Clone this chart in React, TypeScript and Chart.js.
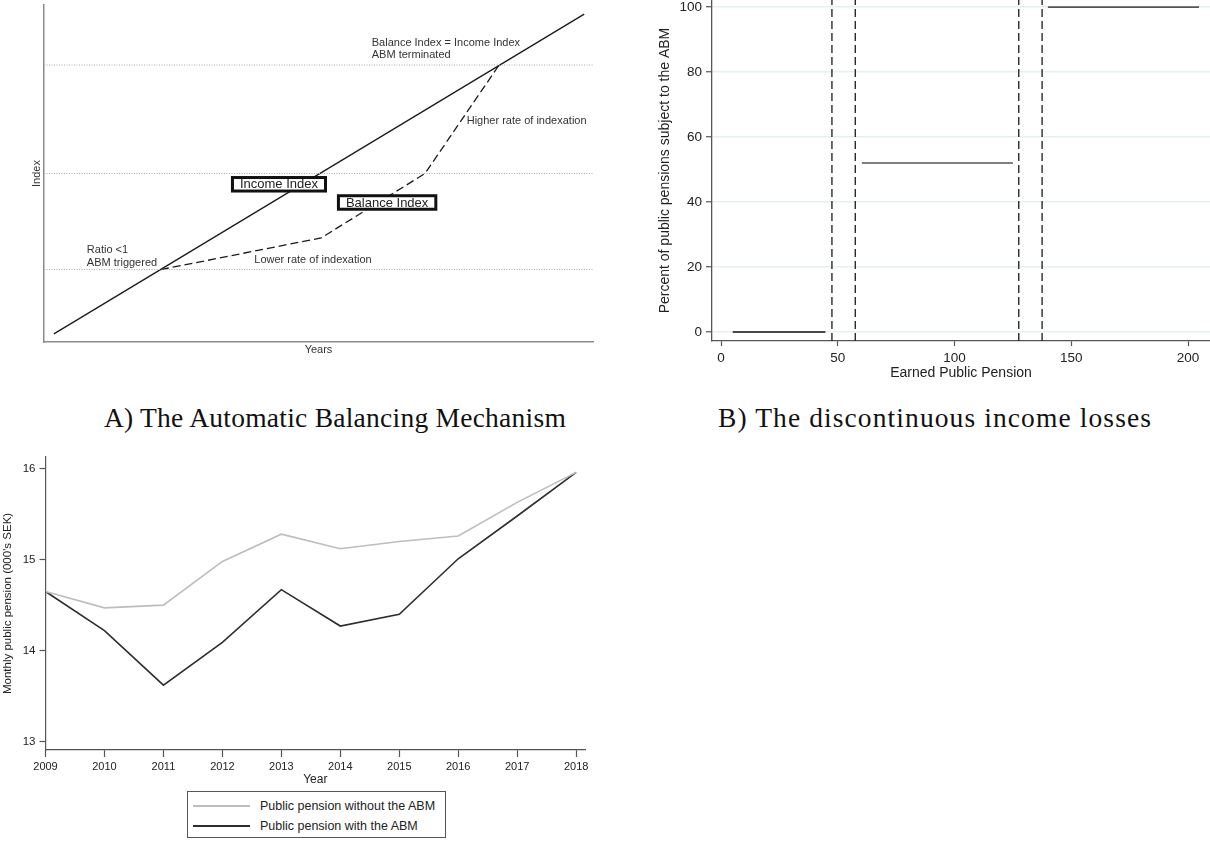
import { useEffect, useRef } from "react";
import { Chart, registerables } from "chart.js";

Chart.register(...registerables);

const SANS = "'Liberation Sans', Arial, Helvetica, sans-serif";
const SERIF = "'Liberation Serif', 'Times New Roman', Times, serif";

// Panel A: schematic of the automatic balancing mechanism (unitless)
const INCOME_X = [1.8, 98.4];
const INCOME_Y = [2.4, 97.3];
const BALANCE_X = [21.3, 50.5, 69.4, 82.9];
const BALANCE_Y = [21.5, 30.9, 50.0, 82.2];
const GUIDE_LEVELS = [21.5, 50.0, 82.2];
const A_NOTES = [
  { text: "Balance Index = Income Index", x: 59.7, y: 88.7 },
  { text: "ABM terminated", x: 59.7, y: 85.2 },
  { text: "Higher rate of indexation", x: 77.0, y: 65.7 },
  { text: "Ratio <1", x: 7.8, y: 27.3 },
  { text: "ABM triggered", x: 7.8, y: 23.5 },
  { text: "Lower rate of indexation", x: 38.3, y: 24.3 },
];
const A_BOXES = [
  { text: "Income Index", x: 42.8, y: 46.8 },
  { text: "Balance Index", x: 62.5, y: 41.4 },
];

// Panel B: share of pensions subject to the ABM by earned pension
const B_STEP_FROM = [5, 60.3, 140];
const B_STEP_TO = [44.7, 125, 204.7];
const B_STEP_SHARE = [0, 52, 100];
const B_CUTOFFS = [47.5, 57.5, 127.5, 137.5];
const B_X_TICKS = [0, 50, 100, 150, 200];
const B_Y_TICKS = [0, 20, 40, 60, 80, 100];

// Panel C: monthly public pension, 000's SEK
const YEARS = [2009, 2010, 2011, 2012, 2013, 2014, 2015, 2016, 2017, 2018];
const WITHOUT_ABM = [14.65, 14.47, 14.5, 14.98, 15.28, 15.12, 15.2, 15.26, 15.63, 15.96];
const WITH_ABM = [14.65, 14.22, 13.62, 14.09, 14.67, 14.27, 14.4, 15.01, 15.48, 15.96];
const C_Y_TICKS = [13, 14, 15, 16];
const SERIES_NAMES = ["Public pension without the ABM", "Public pension with the ABM"];
const SERIES_COLORS = ["#bdbdbd", "#2e2e2e"];

const notesPlugin = {
  id: "abmNotes",
  afterDatasetsDraw(chart: any) {
    const { ctx, scales } = chart;
    const x = scales.x;
    const y = scales.y;
    ctx.save();
    ctx.font = `11px ${SANS}`;
    ctx.fillStyle = "#333";
    ctx.textBaseline = "middle";
    ctx.textAlign = "left";
    A_NOTES.forEach((n) => {
      ctx.fillText(n.text, x.getPixelForValue(n.x), y.getPixelForValue(n.y));
    });
    ctx.font = `13px ${SANS}`;
    ctx.textAlign = "center";
    A_BOXES.forEach((b) => {
      const cx = x.getPixelForValue(b.x);
      const cy = y.getPixelForValue(b.y);
      const w = ctx.measureText(b.text).width + 15;
      const h = 13.5;
      ctx.fillStyle = "#fff";
      ctx.fillRect(cx - w / 2, cy - h / 2, w, h);
      ctx.lineWidth = 3;
      ctx.strokeStyle = "#111";
      ctx.strokeRect(cx - w / 2, cy - h / 2, w, h);
      ctx.fillStyle = "#222";
      ctx.fillText(b.text, cx, cy + 0.5);
    });
    ctx.restore();
  },
};

function PanelA() {
  const ref = useRef<HTMLCanvasElement>(null);
  useEffect(() => {
    if (!ref.current) return;
    const guides = GUIDE_LEVELS.map((lvl) => ({
      data: [
        { x: 0, y: lvl },
        { x: 100, y: lvl },
      ],
      borderColor: "#a8a8a8",
      borderWidth: 1,
      borderDash: [1, 1.5],
      pointRadius: 0,
      showLine: true,
    }));
    const chart = new Chart(ref.current, {
      type: "scatter",
      data: {
        datasets: [
          ...guides,
          {
            data: INCOME_X.map((v, i) => ({ x: v, y: INCOME_Y[i] })),
            borderColor: "#1a1a1a",
            borderWidth: 1.3,
            pointRadius: 0,
            showLine: true,
          },
          {
            data: BALANCE_X.map((v, i) => ({ x: v, y: BALANCE_Y[i] })),
            borderColor: "#1a1a1a",
            borderWidth: 1.3,
            borderDash: [8, 4],
            pointRadius: 0,
            showLine: true,
          },
        ],
      },
      options: {
        responsive: true,
        maintainAspectRatio: false,
        animation: false,
        layout: { padding: { top: 5, right: 7, left: 0, bottom: 0 } },
        plugins: { legend: { display: false }, tooltip: { enabled: false } },
        scales: {
          x: {
            type: "linear",
            min: 0,
            max: 100,
            ticks: { display: false },
            grid: { display: false, drawTicks: false },
            border: { display: true, color: "#8c8c8c", width: 1.5 },
            title: {
              display: true,
              text: "Years",
              color: "#333",
              font: { size: 11, family: SANS },
              padding: { top: 0, bottom: 3 },
            },
            afterFit: (s: any) => {
              s.height = 18;
            },
          },
          y: {
            type: "linear",
            min: 0,
            max: 100,
            ticks: { display: false },
            grid: { display: false, drawTicks: false },
            border: { display: true, color: "#8c8c8c", width: 1.5 },
            title: {
              display: true,
              text: "Index",
              color: "#333",
              font: { size: 11, family: SANS },
              padding: { top: 30, bottom: 0 },
            },
            afterFit: (s: any) => {
              s.width = 44;
            },
          },
        },
      },
      plugins: [notesPlugin],
    });
    return () => chart.destroy();
  }, []);
  return (
    <div style={{ position: "absolute", left: 0, top: 0, width: 600, height: 360 }}>
      <canvas ref={ref} />
    </div>
  );
}

function PanelB() {
  const ref = useRef<HTMLCanvasElement>(null);
  useEffect(() => {
    if (!ref.current) return;
    const yMin = -2.77;
    const yMax = 102.15;
    const steps = B_STEP_SHARE.map((share, i) => ({
      data: [
        { x: B_STEP_FROM[i], y: share },
        { x: B_STEP_TO[i], y: share },
      ],
      borderColor: i === 0 ? "#111" : "#555",
      borderWidth: 1.6,
      pointRadius: 0,
      showLine: true,
    }));
    const cutoffs = B_CUTOFFS.map((c) => ({
      data: [
        { x: c, y: yMin },
        { x: c, y: yMax },
      ],
      borderColor: "#2a2a2a",
      borderWidth: 1.4,
      borderDash: [8, 4],
      pointRadius: 0,
      showLine: true,
    }));
    const chart = new Chart(ref.current, {
      type: "scatter",
      data: { datasets: [...steps, ...cutoffs] },
      options: {
        responsive: true,
        maintainAspectRatio: false,
        animation: false,
        layout: { padding: 0 },
        plugins: { legend: { display: false }, tooltip: { enabled: false } },
        scales: {
          x: {
            type: "linear",
            min: -3.86,
            max: 209.4,
            afterBuildTicks: (s: any) => {
              s.ticks = B_X_TICKS.map((v) => ({ value: v }));
            },
            ticks: { color: "#222", font: { size: 13.5, family: SANS }, padding: 4 },
            grid: { display: true, drawOnChartArea: false, tickLength: 5, tickColor: "#555", tickWidth: 1.2 },
            border: { display: true, color: "#555", width: 1.3 },
            title: {
              display: true,
              text: "Earned Public Pension",
              color: "#222",
              font: { size: 14, family: SANS },
              padding: { top: 0, bottom: 3 },
            },
            afterFit: (s: any) => {
              s.height = 44;
            },
          },
          y: {
            type: "linear",
            min: yMin,
            max: yMax,
            afterBuildTicks: (s: any) => {
              s.ticks = B_Y_TICKS.map((v) => ({ value: v }));
            },
            ticks: { color: "#222", font: { size: 13.5, family: SANS }, padding: 4 },
            grid: { color: "#e6eff2", lineWidth: 1.5, tickLength: 6, tickColor: "#555", tickWidth: 1.2 },
            border: { display: true, color: "#555", width: 1.3 },
            title: {
              display: true,
              text: "Percent of public pensions subject to the ABM",
              color: "#222",
              font: { size: 14, family: SANS },
              padding: { top: 17, bottom: 0 },
            },
            afterFit: (s: any) => {
              s.width = 72;
            },
          },
        },
      },
    });
    return () => chart.destroy();
  }, []);
  // the canvas starts above the page so the plot area meets the top edge
  return (
    <div style={{ position: "absolute", left: 640, top: -12, width: 570, height: 397 }}>
      <canvas ref={ref} />
    </div>
  );
}

function PanelC() {
  const ref = useRef<HTMLCanvasElement>(null);
  useEffect(() => {
    if (!ref.current) return;
    const series = [WITHOUT_ABM, WITH_ABM];
    const chart = new Chart(ref.current, {
      type: "scatter",
      data: {
        datasets: series.map((vals, k) => ({
          label: SERIES_NAMES[k],
          data: YEARS.map((yr, i) => ({ x: yr, y: vals[i] })),
          borderColor: SERIES_COLORS[k],
          borderWidth: 1.6,
          pointRadius: 0,
          showLine: true,
        })),
      },
      options: {
        responsive: true,
        maintainAspectRatio: false,
        animation: false,
        layout: { padding: { top: 0, right: 15, left: 0, bottom: 0 } },
        plugins: { legend: { display: false }, tooltip: { enabled: false } },
        scales: {
          x: {
            type: "linear",
            min: 2009,
            max: 2018.15,
            afterBuildTicks: (s: any) => {
              s.ticks = YEARS.map((v) => ({ value: v }));
            },
            ticks: {
              color: "#222",
              font: { size: 11, family: SANS },
              padding: 3,
              callback: (v: any) => String(v),
            },
            grid: { display: true, drawOnChartArea: false, tickLength: 7, tickColor: "#555", tickWidth: 1.2 },
            border: { display: true, color: "#555", width: 1.2 },
            title: {
              display: true,
              text: "Year",
              color: "#222",
              font: { size: 12, family: SANS },
              padding: { top: 0, bottom: 3 },
            },
            afterFit: (s: any) => {
              s.height = 40;
            },
          },
          y: {
            type: "linear",
            min: 12.907,
            max: 16.13,
            afterBuildTicks: (s: any) => {
              s.ticks = C_Y_TICKS.map((v) => ({ value: v }));
            },
            ticks: { color: "#222", font: { size: 11.5, family: SANS }, padding: 4 },
            grid: { display: true, drawOnChartArea: false, tickLength: 6, tickColor: "#555", tickWidth: 1.2 },
            border: { display: true, color: "#555", width: 1.2 },
            title: {
              display: true,
              text: "Monthly public pension (000's SEK)",
              color: "#222",
              font: { size: 11.5, family: SANS },
              padding: { top: 1, bottom: 0 },
            },
            afterFit: (s: any) => {
              s.width = 45.5;
            },
          },
        },
      },
    });
    return () => chart.destroy();
  }, []);
  return (
    <>
      <div style={{ position: "absolute", left: 0, top: 446, width: 600, height: 344 }}>
        <canvas ref={ref} />
      </div>
      <div
        style={{
          position: "absolute",
          left: 187,
          top: 791,
          width: 257,
          height: 45,
          border: "1px solid #555",
          fontFamily: SANS,
          fontSize: 12.5,
          color: "#222",
        }}
      >
        {SERIES_NAMES.map((name, k) => (
          <div
            key={name}
            style={{ position: "absolute", left: 0, top: 6 + k * 19.5, height: 16, display: "flex", alignItems: "center" }}
          >
            <span style={{ display: "inline-block", marginLeft: 5, width: 57, height: 2, background: SERIES_COLORS[k] }} />
            <span style={{ marginLeft: 10, whiteSpace: "nowrap" }}>{name}</span>
          </div>
        ))}
      </div>
    </>
  );
}

export default function App() {
  const caption = {
    position: "absolute" as const,
    top: 404,
    width: 600,
    textAlign: "center" as const,
    fontFamily: SERIF,
    fontSize: 27.5,
    lineHeight: "27px",
    color: "#111",
    whiteSpace: "nowrap" as const,
  };
  return (
    <div style={{ position: "absolute", left: 0, top: 0, width: 1210, height: 841, background: "#fff", overflow: "hidden" }}>
      <PanelA />
      <PanelB />
      <div style={{ ...caption, left: 35, letterSpacing: 0.25 }}>A) The Automatic Balancing Mechanism</div>
      <div style={{ ...caption, left: 635, letterSpacing: 1.1 }}>B) The discontinuous income losses</div>
      <PanelC />
    </div>
  );
}
